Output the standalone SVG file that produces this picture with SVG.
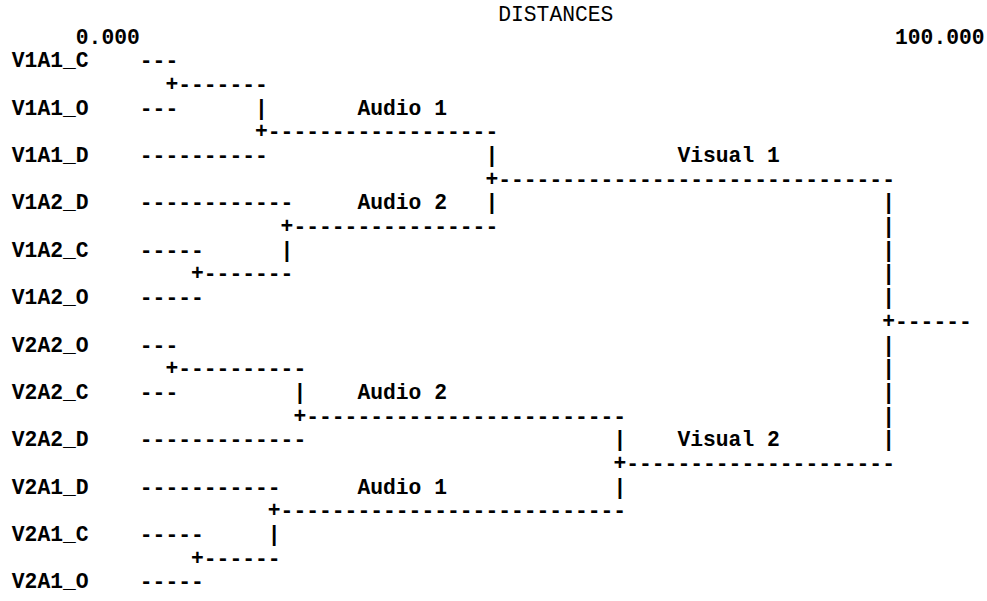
<svg xmlns="http://www.w3.org/2000/svg" width="987" height="601" viewBox="0 0 987 601">
<style>
text{font-family:"Liberation Mono","Courier New",monospace;font-size:21.33px;fill:#000;font-weight:bold;white-space:pre}
.title{font-weight:normal}
</style>
<rect width="987" height="601" fill="#fff"/>
<g id="axis">
<text class="title" x="498.2" y="20.7">DISTANCES</text>
<text x="75.8" y="43.68">0.000</text>
<text x="895" y="43.68">100.000</text>
</g>
<g id="V1A1_C"><text x="11.8" y="67.36">V1A1_C</text></g>
<g id="V1A1_O"><text x="11.8" y="114.72">V1A1_O</text></g>
<g id="V1A1_D"><text x="11.8" y="162.08">V1A1_D</text></g>
<g id="V1A2_D"><text x="11.8" y="209.44">V1A2_D</text></g>
<g id="V1A2_C"><text x="11.8" y="256.8">V1A2_C</text></g>
<g id="V1A2_O"><text x="11.8" y="304.16">V1A2_O</text></g>
<g id="V2A2_O"><text x="11.8" y="351.52">V2A2_O</text></g>
<g id="V2A2_C"><text x="11.8" y="398.88">V2A2_C</text></g>
<g id="V2A2_D"><text x="11.8" y="446.24">V2A2_D</text></g>
<g id="V2A1_D"><text x="11.8" y="493.6">V2A1_D</text></g>
<g id="V2A1_C"><text x="11.8" y="540.96">V2A1_C</text></g>
<g id="V2A1_O"><text x="11.8" y="588.32">V2A1_O</text></g>
<g id="cluster-V1-Audio1"><text x="357.4" y="114.72">Audio 1</text></g>
<g id="cluster-V1"><text x="677.4" y="162.08">Visual 1</text></g>
<g id="cluster-V1-Audio2"><text x="357.4" y="209.44">Audio 2</text></g>
<g id="cluster-V2-Audio2"><text x="357.4" y="398.88">Audio 2</text></g>
<g id="cluster-V2"><text x="677.4" y="446.24">Visual 2</text></g>
<g id="cluster-V2-Audio1"><text x="357.4" y="493.6">Audio 1</text></g>
<g id="connectors">
<text x="139.8" y="67.36">---</text>
<text x="165.4" y="91.04">+-------</text>
<text x="139.8" y="114.72">---</text>
<text x="255" y="114.72">|</text>
<text x="255" y="138.4">+------------------</text>
<text x="139.8" y="162.08">----------</text>
<text x="485.4" y="162.08">|</text>
<text x="485.4" y="185.76">+-------------------------------</text>
<text x="139.8" y="209.44">------------</text>
<text x="485.4" y="209.44">|</text>
<text x="882.2" y="209.44">|</text>
<text x="280.6" y="233.12">+----------------</text>
<text x="882.2" y="233.12">|</text>
<text x="139.8" y="256.8">-----</text>
<text x="280.6" y="256.8">|</text>
<text x="882.2" y="256.8">|</text>
<text x="191" y="280.48">+-------</text>
<text x="882.2" y="280.48">|</text>
<text x="139.8" y="304.16">-----</text>
<text x="882.2" y="304.16">|</text>
<text x="882.2" y="327.84">+------</text>
<text x="139.8" y="351.52">---</text>
<text x="882.2" y="351.52">|</text>
<text x="165.4" y="375.2">+----------</text>
<text x="882.2" y="375.2">|</text>
<text x="139.8" y="398.88">---</text>
<text x="293.4" y="398.88">|</text>
<text x="882.2" y="398.88">|</text>
<text x="293.4" y="422.56">+-------------------------</text>
<text x="882.2" y="422.56">|</text>
<text x="139.8" y="446.24">-------------</text>
<text x="613.4" y="446.24">|</text>
<text x="882.2" y="446.24">|</text>
<text x="613.4" y="469.92">+---------------------</text>
<text x="139.8" y="493.6">-----------</text>
<text x="613.4" y="493.6">|</text>
<text x="267.8" y="517.28">+---------------------------</text>
<text x="139.8" y="540.96">-----</text>
<text x="267.8" y="540.96">|</text>
<text x="191" y="564.64">+------</text>
<text x="139.8" y="588.32">-----</text>
</g>
</svg>
